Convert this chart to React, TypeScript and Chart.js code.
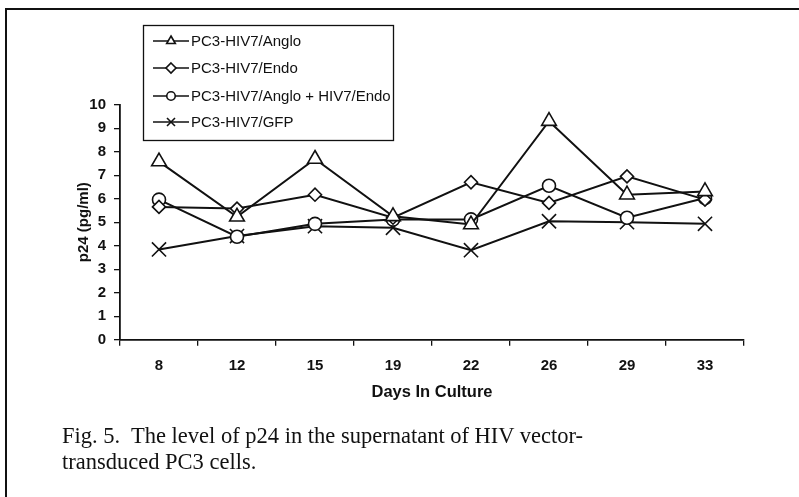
import React, { useEffect, useRef } from "react";
import { Chart, registerables } from "chart.js";

Chart.register(...registerables);

const days = ["8", "12", "15", "19", "22", "26", "29", "33"];
const angloValues = [7.58, 5.23, 7.69, 5.25, 4.9, 9.3, 6.17, 6.31];
const endoValues = [5.65, 5.58, 6.17, 5.19, 6.7, 5.82, 6.95, 5.96];
const comboValues = [5.96, 4.38, 4.93, 5.11, 5.12, 6.55, 5.19, 6.03];
const gfpValues = [3.84, 4.41, 4.83, 4.76, 3.81, 5.04, 5.0, 4.93];
const seriesLabels = [
  "PC3-HIV7/Anglo",
  "PC3-HIV7/Endo",
  "PC3-HIV7/Anglo + HIV7/Endo",
  "PC3-HIV7/GFP",
];
const yTicks = [0, 1, 2, 3, 4, 5, 6, 7, 8, 9, 10];

const SANS = "'Liberation Sans', Arial, sans-serif";

function drawMarker(ctx: CanvasRenderingContext2D, style: string, x: number, y: number, r: number) {
  ctx.beginPath();
  if (style === "triangle") {
    ctx.moveTo(x, y - r);
    ctx.lineTo(x + r * 0.866, y + r * 0.5);
    ctx.lineTo(x - r * 0.866, y + r * 0.5);
    ctx.closePath();
    ctx.fill();
    ctx.stroke();
  } else if (style === "rectRot") {
    ctx.moveTo(x, y - r);
    ctx.lineTo(x + r, y);
    ctx.lineTo(x, y + r);
    ctx.lineTo(x - r, y);
    ctx.closePath();
    ctx.fill();
    ctx.stroke();
  } else if (style === "circle") {
    ctx.arc(x, y, r * 0.85, 0, Math.PI * 2);
    ctx.fill();
    ctx.stroke();
  } else {
    const d = r * 0.8;
    ctx.moveTo(x - d, y - d);
    ctx.lineTo(x + d, y + d);
    ctx.moveTo(x + d, y - d);
    ctx.lineTo(x - d, y + d);
    ctx.stroke();
  }
}

const boxLegend = {
  id: "boxLegend",
  afterDraw(chart: any) {
    const ctx: CanvasRenderingContext2D = chart.ctx;
    const bx = 143.5, by = 25.5, bw = 250, bh = 115;
    ctx.save();
    ctx.fillStyle = "#ffffff";
    ctx.fillRect(bx, by, bw, bh);
    ctx.strokeStyle = "#111";
    ctx.lineWidth = 1.3;
    ctx.strokeRect(bx, by, bw, bh);
    const rows = [41, 68, 96, 122];
    chart.data.datasets.forEach((ds: any, i: number) => {
      const y = rows[i];
      ctx.strokeStyle = "#111";
      ctx.fillStyle = "#fff";
      ctx.lineWidth = 1.6;
      ctx.beginPath();
      ctx.moveTo(153, y);
      ctx.lineTo(189, y);
      ctx.stroke();
      drawMarker(ctx, ds.pointStyle, 171, y, 5);
      ctx.fillStyle = "#111";
      ctx.font = `15px ${SANS}`;
      ctx.textBaseline = "middle";
      ctx.textAlign = "left";
      ctx.fillText(ds.label, 191, y + 0.5);
    });
    ctx.restore();
  },
};

export default function App() {
  const ref = useRef<HTMLCanvasElement | null>(null);

  useEffect(() => {
    document.body.style.margin = "0";
    const canvas = ref.current;
    if (!canvas) return;
    const mk = (label: string, data: number[], pointStyle: string, radius: number) => ({
      label,
      data,
      pointStyle,
      pointRadius: radius,
      pointBorderWidth: 1.6,
      pointBackgroundColor: "#ffffff",
      pointBorderColor: "#111111",
      borderColor: "#111111",
      borderWidth: 2,
      fill: false,
      tension: 0,
    });
    const chart = new Chart(canvas, {
      type: "line",
      data: {
        labels: days,
        datasets: [
          mk(seriesLabels[0], angloValues, "triangle", 8.5),
          mk(seriesLabels[1], endoValues, "rectRot", 6.5),
          mk(seriesLabels[2], comboValues, "circle", 6.5),
          mk(seriesLabels[3], gfpValues, "crossRot", 10),
        ],
      },
      options: {
        animation: false,
        responsive: false,
        maintainAspectRatio: false,
        events: [],
        layout: { padding: { left: 75, right: 55, top: 104.7, bottom: 27.3 } },
        plugins: { legend: { display: false }, tooltip: { enabled: false } },
        scales: {
          x: {
            type: "category",
            offset: true,
            grid: { offset: true, drawOnChartArea: false, drawTicks: true, tickLength: 6, color: "#111", lineWidth: 1.3 },
            border: { display: true, color: "#111", width: 1.8 },
            ticks: { color: "#111", padding: 11, font: { family: SANS, size: 15, weight: "bold" }, maxRotation: 0 },
            title: { display: true, text: "Days In Culture", color: "#111", padding: 0, font: { family: SANS, size: 16.5, weight: "bold" } },
            afterFit: (s: any) => { s.height = 63; },
          },
          y: {
            min: 0,
            max: 10,
            afterBuildTicks: (s: any) => { s.ticks = yTicks.map((v) => ({ value: v })); },
            grid: { drawOnChartArea: false, drawTicks: true, tickLength: 6, color: "#111", lineWidth: 1.3 },
            border: { display: true, color: "#111", width: 1.8 },
            ticks: { color: "#111", padding: 8, font: { family: SANS, size: 15, weight: "bold" } },
            title: { display: true, text: "p24 (pg/ml)", color: "#111", padding: 0, font: { family: SANS, size: 15, weight: "bold" } },
            afterFit: (s: any) => { s.width = 45; },
          },
        },
      },
      plugins: [boxLegend],
    });
    return () => chart.destroy();
  }, []);

  return (
    <div style={{ position: "relative", width: 799, height: 497, background: "#fff", overflow: "hidden" }}>
      <div
        style={{
          position: "absolute",
          left: 5,
          top: 8,
          width: 800,
          height: 500,
          borderTop: "2.5px solid #111",
          borderLeft: "2px solid #111",
        }}
      />
      <canvas ref={ref} width={799} height={430} style={{ position: "absolute", left: 0, top: 0, width: 799, height: 430 }} />
      <div
        style={{
          position: "absolute",
          left: 62,
          top: 423,
          fontFamily: "'Liberation Serif', 'Times New Roman', serif",
          fontSize: 22.5,
          lineHeight: "26px",
          color: "#111",
          whiteSpace: "nowrap",
        }}
      >
        <div>Fig. 5.&nbsp; The level of p24 in the supernatant of HIV vector-</div>
        <div>transduced PC3 cells.</div>
      </div>
    </div>
  );
}
